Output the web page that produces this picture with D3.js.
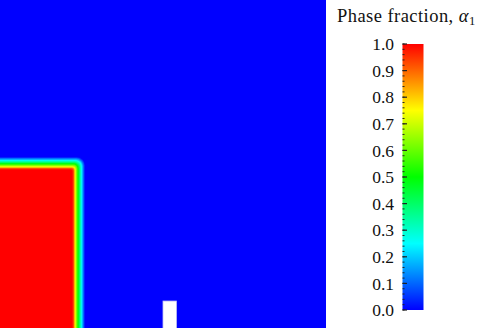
<!DOCTYPE html>
<html>
<head>
<meta charset="utf-8">
<script src="https://cdn.jsdelivr.net/npm/d3@7"></script>
<style>
  body { margin: 0; background: #fff; }
  text { font-family: 'Liberation Serif', 'Times New Roman', serif; fill: #111; }
</style>
</head>
<body>
<svg></svg>
<script>
// Domain of the simulation (metres)
let domainX = [0, 0.584];
let domainY = [0, 0.584];

// Water column, position of the alpha = 0.5 contour (metres)
let columnEdge = [0.1397, 0.292];
let columnCornerRadius = 0.008;

// Obstacle on the floor: [x0, x1, y0, y1] (metres)
let obstacle = [0.292, 0.316, 0, 0.048];

// Interface profile read across the edge: offset from the 0.5 contour (m, + outward) -> alpha
let profileOffset = [-0.0108, -0.0081, -0.0054, 0, 0.0063, 0.0099, 0.0126];
let profileAlpha = [1.0, 0.93, 0.75, 0.5, 0.25, 0.1, 0.0];

// Colour bar
let colorStops = [0, 0.25, 0.5, 0.75, 1];
let colorValues = ['#0000ff', '#00ffff', '#00ff00', '#ffff00', '#ff0000'];
let majorTicks = [0, 0.1, 0.2, 0.3, 0.4, 0.5, 0.6, 0.7, 0.8, 0.9, 1.0];
let minorTicks = d3.range(0, 1.0001, 0.02);

let width = 479;
let height = 328;

let svg = d3.select('svg')
    .attr('width', width)
    .attr('height', height);

let xScale = d3.scaleLinear().domain(domainX).range([0, 326]);
let yScale = d3.scaleLinear().domain(domainY).range([height, 0]);
let colorScale = d3.scaleLinear().domain(colorStops).range(colorValues).clamp(true);
// alpha -> offset from interface
let offsetScale = d3.scaleLinear().domain(profileAlpha).range(profileOffset).clamp(true);

// Rounded rectangle from the origin corner (left, bottom) to (x1, y1), corner at top right
let columnPath = (x1, y1, r) => {
    let px = xScale(x1), py = yScale(y1);
    let pr = Math.max(0, xScale(r) - xScale(0));
    pr = Math.min(pr, px, yScale(0) - py);
    let p = d3.path();
    p.moveTo(xScale(0), yScale(0));
    p.lineTo(xScale(0), py);
    p.lineTo(px - pr, py);
    p.arcTo(px, py, px, py + pr, pr);
    p.lineTo(px, yScale(0));
    p.closePath();
    return p.toString();
};

let drawField = () => {
    let field = svg.append('g').attr('class', 'field');

    // alpha = 0 everywhere outside the water
    field.append('rect')
        .attr('x', xScale(domainX[0]))
        .attr('y', yScale(domainY[1]))
        .attr('width', xScale(domainX[1]) - xScale(domainX[0]))
        .attr('height', yScale(domainY[0]) - yScale(domainY[1]))
        .attr('fill', colorScale(0));

    // filled contour bands of alpha, outer to inner
    let levels = d3.range(0.01, 1.0, 0.02);
    field.selectAll('path.band')
        .data(levels)
        .enter()
        .append('path')
        .attr('class', 'band')
        .attr('d', (a) => {
            let d = offsetScale(a);
            return columnPath(columnEdge[0] + d, columnEdge[1] + d,
                Math.max(0.003, columnCornerRadius + 0.5 * d));
        })
        .attr('fill', (a) => colorScale(Math.min(1, a + 0.01)));

    // obstacle (no fluid)
    field.append('rect')
        .attr('x', xScale(obstacle[0]))
        .attr('y', yScale(obstacle[3]))
        .attr('width', xScale(obstacle[1]) - xScale(obstacle[0]))
        .attr('height', yScale(obstacle[2]) - yScale(obstacle[3]) + 1)
        .attr('fill', '#ffffff')
        .attr('stroke', '#c4c4f4')
        .attr('stroke-width', 0.8);
};

let drawColorBar = () => {
    let barX = 402.5, barW = 21;
    let barScale = d3.scaleLinear().domain([0, 1]).range([310, 44]);

    let grad = svg.append('defs').append('linearGradient')
        .attr('id', 'rainbow')
        .attr('x1', 0).attr('y1', 1).attr('x2', 0).attr('y2', 0);
    grad.selectAll('stop')
        .data(colorStops)
        .enter()
        .append('stop')
        .attr('offset', (s) => s)
        .attr('stop-color', (s) => colorScale(s));

    svg.append('rect')
        .attr('x', barX)
        .attr('y', barScale(1))
        .attr('width', barW)
        .attr('height', barScale(0) - barScale(1))
        .attr('fill', 'url(#rainbow)');

    // minor and major ticks on the inner left edge
    svg.selectAll('line.minor')
        .data(minorTicks)
        .enter()
        .append('line')
        .attr('class', 'minor')
        .attr('x1', barX).attr('x2', barX + 2)
        .attr('y1', (t) => barScale(t)).attr('y2', (t) => barScale(t))
        .attr('stroke', '#222')
        .attr('stroke-width', 1);

    svg.selectAll('line.major')
        .data(majorTicks)
        .enter()
        .append('line')
        .attr('class', 'major')
        .attr('x1', barX).attr('x2', barX + 4.5)
        .attr('y1', (t) => barScale(t)).attr('y2', (t) => barScale(t))
        .attr('stroke', '#222')
        .attr('stroke-width', 1.2);

    svg.selectAll('text.tick')
        .data(majorTicks)
        .enter()
        .append('text')
        .attr('class', 'tick')
        .attr('x', 394)
        .attr('y', (t) => barScale(t))
        .attr('dy', '0.35em')
        .attr('text-anchor', 'end')
        .attr('font-size', 17.5)
        .text((t) => d3.format('.1f')(t));

    // title
    let title = svg.append('text')
        .attr('x', 337)
        .attr('y', 22)
        .attr('font-size', 18.5)
        .attr('letter-spacing', 0.45);
    title.append('tspan').text('Phase fraction, ');
    title.append('tspan').attr('font-style', 'italic').text('α');
    title.append('tspan').attr('font-size', 12.5).attr('dy', 3).text('1');
};

drawField();
drawColorBar();
</script>
</body>
</html>
